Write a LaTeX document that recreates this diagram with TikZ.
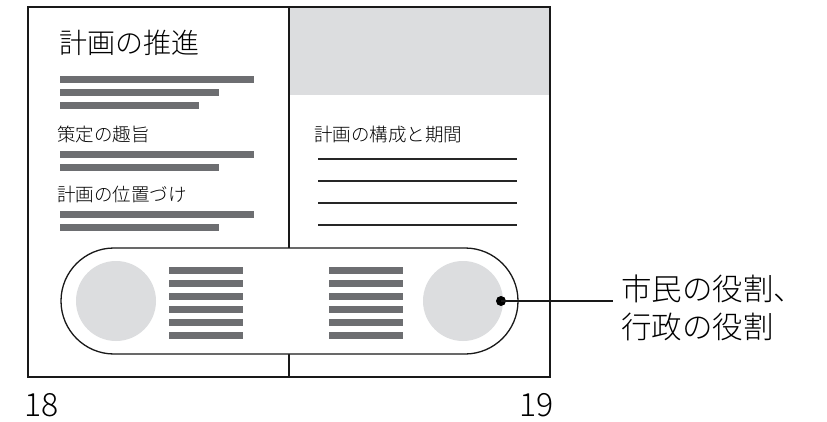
\documentclass[tikz,border=0pt]{standalone}
\usepackage{fontspec}
\setmainfont{TeX Gyre Heros}
\newfontfamily\jp{Noto Sans CJK JP}[UprightFont=* Light]
\usetikzlibrary{shapes.misc}
\definecolor{bargray}{HTML}{6D6E71}
\definecolor{softgray}{HTML}{DCDDDF}
\newcommand{\greybar}[3]{\fill[bargray] (#1,#2) rectangle (#3,{#2+7});}
\begin{document}
\begin{tikzpicture}[x=1pt,y=-1pt,
    heading/.style={anchor=west,inner sep=0pt,font=\jp\fontsize{18.5}{18}\selectfont},
    frame/.style={line width=1.3pt,black!90}]
    \useasboundingbox (0,0) rectangle (827,422);
    %pages
    \fill[softgray] (289,7) rectangle (550,95);
    \draw[frame] (28,7) rectangle (550,377);
    \draw[frame] (289,7) -- (289,377);
    %left page
    \node[heading,font=\jp\fontsize{28}{28}\selectfont] (title) at (59,42.5) {計画の推進};
    \node[heading] (aim) at (57,134) {策定の趣旨};
    \node[heading] (place) at (57,194.5) {計画の位置づけ};
    \foreach \y/\e in {76/254, 89/219, 102/199, 151/254, 164/219, 211/254, 224/219} {\greybar{60}{\y}{\e}}
    %right page
    \node[heading] (term) at (314,134.5) {計画の構成と期間};
    \foreach \y in {159, 181, 203, 225} \draw[line width=1.1pt,black!85] (318,\y) -- (517,\y);
    %roles
    \node[draw,frame,fill=white,rounded rectangle,minimum width=457pt,minimum height=106pt,inner sep=0pt] (pill) at (289.5,301) {};
    \node[circle,fill=softgray,minimum size=80pt,inner sep=0pt] (citizen) at (116,301) {};
    \node[circle,fill=softgray,minimum size=80pt,inner sep=0pt] (admin) at (463,301) {};
    \foreach \y in {267, 280, ..., 332} {\greybar{169}{\y}{243} \greybar{329}{\y}{403}}
    \node[circle,fill=black,minimum size=10pt,inner sep=0pt] (dot) at (501,301) {};
    \coordinate (lead) at (613,301);
    \draw[frame] (dot.center) -- (lead);
    \node[anchor=west,align=left,inner sep=0pt,font=\jp\fontsize{30.5}{38}\selectfont] (role) at (621,307.5) {市民の役割、\\行政の役割};
    %page numbers
    \node[anchor=base west,inner sep=0pt,font=\jp\fontsize{32}{32}\selectfont] (pleft) at (24,416) {18};
    \node[anchor=base east,inner sep=0pt,font=\jp\fontsize{32}{32}\selectfont] (pright) at (554,416) {19};
\end{tikzpicture}
\end{document}
